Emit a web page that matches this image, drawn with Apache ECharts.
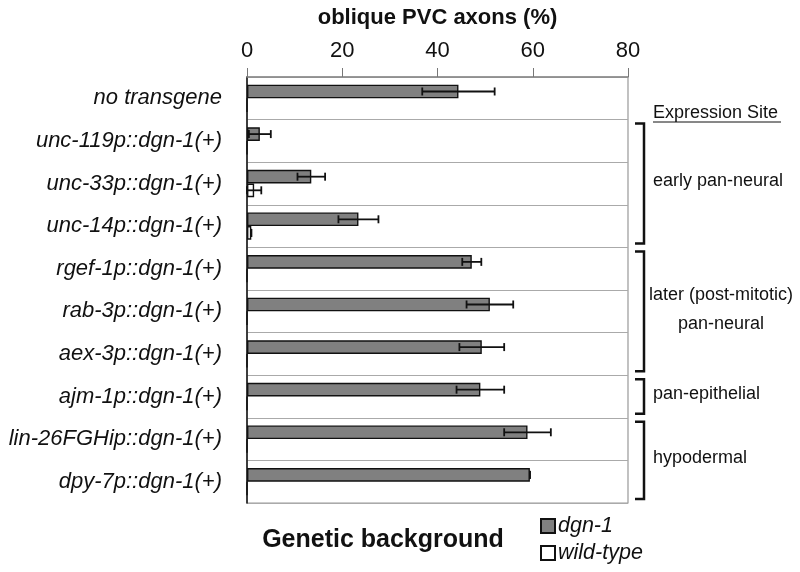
<!DOCTYPE html>
<html>
<head>
<meta charset="utf-8">
<script src="https://cdn.jsdelivr.net/npm/echarts@6/dist/echarts.min.js"></script>
<style>html,body{margin:0;padding:0;background:#fff;}#c{width:800px;height:572px;}</style>
</head>
<body>
<div id="c"></div>
<script>
var categories = ['no transgene','unc-119p::dgn-1(+)','unc-33p::dgn-1(+)','unc-14p::dgn-1(+)','rgef-1p::dgn-1(+)','rab-3p::dgn-1(+)','aex-3p::dgn-1(+)','ajm-1p::dgn-1(+)','lin-26FGHip::dgn-1(+)','dpy-7p::dgn-1(+)'];
var dgn1 = [44.4, 2.7, 13.5, 23.4, 47.2, 51.0, 49.3, 49.0, 58.9, 59.4];
var dgn1Err = [7.6, 2.3, 2.9, 4.2, 2.0, 4.9, 4.7, 5.0, 4.9, 0];
var wildType = [0, 0, 1.5, 0.9, 0, 0, 0, 0, 0, 0];
var wildTypeErr = [0, 0, 1.5, 0, 0, 0, 0, 0, 0, 0];
var xTicks = [0, 20, 40, 60, 80];
var groups = [
  {name: 'early pan-neural', from: 1, to: 3},
  {name: 'later (post-mitotic)\npan-neural', from: 4, to: 6},
  {name: 'pan-epithelial', from: 7, to: 7},
  {name: 'hypodermal', from: 8, to: 9}
];

var FONT = '"Liberation Sans", Arial, sans-serif';
var chart = echarts.init(document.getElementById('c'));

function errData(vals, errs) {
  return vals.map(function (v, i) { return [i, v, errs[i]]; });
}
function errSeries(name, vals, errs, side) {
  return {
    type: 'custom',
    name: name + ' err',
    data: errData(vals, errs),
    z: 5,
    silent: true,
    renderItem: function (params, api) {
      var idx = api.value(0), v = api.value(1), e = api.value(2);
      if (v === 0 && e === 0) return null;
      var band = api.size([0, 1])[1];
      var c = api.coord([v, idx]);
      var y = c[1] + side * band * 0.16;
      var lo = api.coord([v - e, idx])[0];
      var hi = api.coord([v + e, idx])[0];
      var h = 4;
      var st = {stroke: '#111', lineWidth: 1.8};
      return {
        type: 'group',
        children: [
          {type: 'line', shape: {x1: lo, y1: y, x2: hi, y2: y}, style: st},
          {type: 'line', shape: {x1: lo, y1: y - h, x2: lo, y2: y + h}, style: st},
          {type: 'line', shape: {x1: hi, y1: y - h, x2: hi, y2: y + h}, style: st}
        ]
      };
    }
  };
}

var option = {
  animation: false,
  backgroundColor: '#fff',
  textStyle: {fontFamily: FONT},
  grid: {left: 247, right: 172, top: 77, bottom: 69, show: true, borderColor: '#999', borderWidth: 1.2,
    containLabel: false, outerBoundsMode: 'none'},
  xAxis: {
    type: 'value', position: 'top', min: 0, max: 80, interval: 20,
    name: 'oblique PVC axons (%)', nameLocation: 'middle', nameGap: 48,
    nameTextStyle: {fontSize: 22, fontWeight: 'bold', color: '#111', fontFamily: FONT},
    axisLine: {show: true, lineStyle: {color: '#888', width: 1.5}},
    axisTick: {show: true, length: 9, lineStyle: {color: '#777', width: 1}},
    axisLabel: {fontSize: 22, color: '#111', margin: 15, fontFamily: FONT,
      formatter: function (v) { return xTicks.indexOf(v) >= 0 ? String(v) : ''; }},
    splitLine: {show: false}
  },
  yAxis: {
    type: 'category', data: categories, inverse: true,
    axisLine: {show: true, lineStyle: {color: '#111', width: 1.5}},
    axisTick: {show: false},
    axisLabel: {fontSize: 22, fontStyle: 'italic', color: '#111', margin: 25, fontFamily: FONT},
    splitLine: {show: true, lineStyle: {width: 1.2, color: '#aaa'}}
  },
  legend: {
    orient: 'vertical', left: 535, top: 510, itemGap: 5, itemWidth: 14, itemHeight: 14,
    icon: 'rect', selectedMode: false,
    data: ['dgn-1', 'wild-type'],
    textStyle: {fontSize: 21.5, fontStyle: 'italic', color: '#111', fontFamily: FONT, padding: [0, 0, 0, -2]}
  },
  series: [
    {type: 'bar', name: 'dgn-1', data: dgn1, barCategoryGap: '36%', barGap: '0%',
      itemStyle: {color: '#808080', borderColor: '#111', borderWidth: 1.4}},
    {type: 'bar', name: 'wild-type', data: wildType,
      itemStyle: {color: '#fff', borderColor: '#111', borderWidth: 1.4}},
    errSeries('dgn-1', dgn1, dgn1Err, -1),
    errSeries('wild-type', wildType, wildTypeErr, 1)
  ]
};
chart.setOption(option);

function drawAnnotations() {
  var g = [];
  var bracketX = 644, armX = 635;
  groups.forEach(function (gr) {
    var yTop = chart.convertToPixel({yAxisIndex: 0}, categories[gr.from]);
    var yBot = chart.convertToPixel({yAxisIndex: 0}, categories[gr.to]);
    var band = (chart.convertToPixel({yAxisIndex: 0}, categories[1]) - chart.convertToPixel({yAxisIndex: 0}, categories[0]));
    var t = yTop - band / 2 + 4, b = yBot + band / 2 - 4;
    g.push({type: 'polyline', shape: {points: [[armX, t], [bracketX, t], [bracketX, b], [armX, b]]},
      style: {stroke: '#111', lineWidth: 2.5, fill: null}});
    var mid = (t + b) / 2;
    var multi = gr.name.indexOf('\n') >= 0;
    g.push({type: 'text', x: multi ? 721 : 653, y: mid - 2,
      style: {text: gr.name, fontSize: 18, fill: '#111', fontFamily: FONT, align: multi ? 'center' : 'left', verticalAlign: 'middle', lineHeight: 29}});
  });
  g.push({type: 'text', x: 653, y: 113, style: {text: 'Expression Site', fontSize: 18, fill: '#111', fontFamily: FONT, align: 'left', verticalAlign: 'middle'}});
  g.push({type: 'line', shape: {x1: 653, y1: 122, x2: 781, y2: 122}, style: {stroke: '#111', lineWidth: 1}});
  g.push({type: 'text', x: 383, y: 540, style: {text: 'Genetic background', fontSize: 25, fontWeight: 'bold', fill: '#111', fontFamily: FONT, align: 'center', verticalAlign: 'middle'}});
  chart.setOption({graphic: g});
}
drawAnnotations();
</script>
</body>
</html>
